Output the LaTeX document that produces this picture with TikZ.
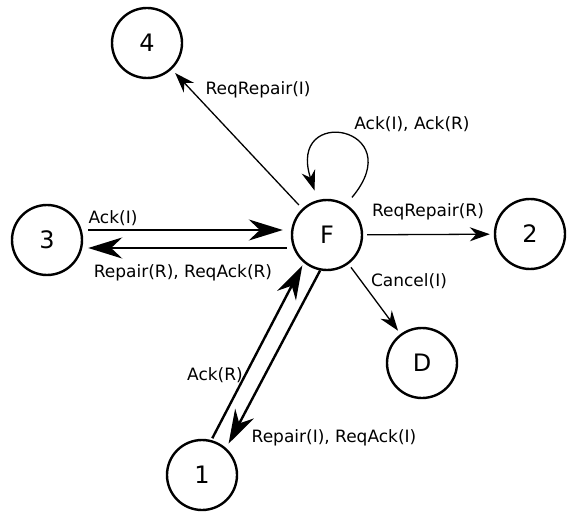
\documentclass[tikz,border=0pt]{standalone}
\usepackage{fontspec}
\setmainfont{DejaVu Sans}
\usetikzlibrary{arrows.meta}

\begin{document}
\begin{tikzpicture}[x=1pt, y=1pt,
    state/.style={circle, draw, line width=2.4pt, minimum size=70pt, inner sep=0pt, font=\fontsize{24}{28}\selectfont},
    lbl/.style={inner sep=0pt, font=\fontsize{17}{20}\selectfont},
    msg/.style={line width=1.3pt, -{Stealth[length=20pt, width=14pt]}, shorten >=4pt, shorten <=4pt},
    bigmsg/.style={line width=2.4pt, -{Stealth[length=34pt, width=21pt]}}]
            \useasboundingbox (0,0) rectangle (572,512);
            \node[state] (n4) at (147,469) {4};
            \node[state] (nF) at (327,277) {F};
            \node[state] (n3) at (47,272) {3};
            \node[state] (n2) at (530,278) {2};
            \node[state] (nD) at (422,149) {D};
            \node[state] (n1) at (202,37) {1};

            \draw[msg, shorten >=5pt, shorten <=5pt] (nF) -- (n4);
            \draw[msg, shorten >=10pt, shorten <=9pt] (nF.58) to[out=50, in=108, looseness=9] (nF.105);
            \draw[bigmsg] ([shift={(5pt,10pt)}]n3.east) -- ([shift={(-8pt,5pt)}]nF.west);
            \draw[bigmsg] ([shift={(-4pt,-13pt)}]nF.west) -- ([shift={(5pt,-8pt)}]n3.east);
            \draw[msg] (nF) -- (n2);
            \draw[msg] (nF) -- (nD);
            \draw[bigmsg, shorten <=2pt, shorten >=3pt] (n1.75) -- (nF.230);
            \draw[bigmsg, shorten >=5pt] (nF.259) -- (n1.48);

            \node[lbl] (lreq4) at (258,422) {ReqRepair(I)};
            \node[lbl] (lloop) at (412,388) {Ack(I), Ack(R)};
            \node[lbl] (lack3) at (113,294) {Ack(I)};
            \node[lbl] (lrep3) at (183,239) {Repair(R), ReqAck(R)};
            \node[lbl] (lreq2) at (428,300) {ReqRepair(R)};
            \node[lbl] (lcan) at (409,231) {Cancel(I)};
            \node[lbl] (lack1) at (215,137) {Ack(R)};
            \node[lbl] (lrep1) at (334,74) {Repair(I), ReqAck(I)};
\end{tikzpicture}
\end{document}
